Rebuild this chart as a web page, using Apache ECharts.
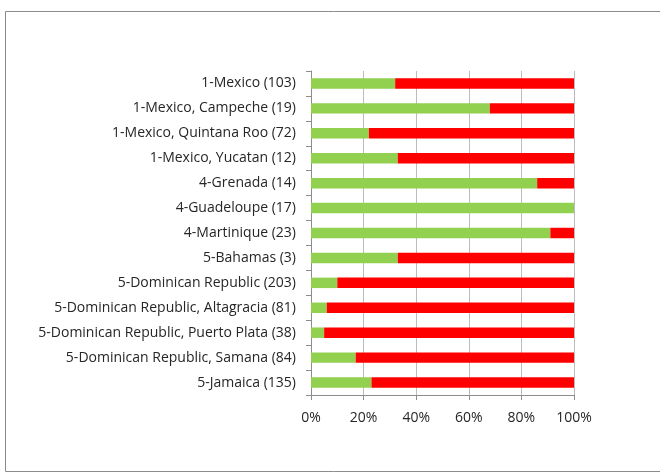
<!DOCTYPE html>
<html>
<head>
<meta charset="utf-8">
<script src="https://cdn.jsdelivr.net/npm/echarts@6/dist/echarts.min.js"></script>
<style>
  html, body { margin: 0; padding: 0; background: #fff; }
  #chart { width: 660px; height: 473px; }
</style>
</head>
<body>
<div id="chart"></div>
<script>
// Sites, listed top to bottom
const categories = [
  '1-Mexico (103)',
  '1-Mexico, Campeche (19)',
  '1-Mexico, Quintana Roo (72)',
  '1-Mexico, Yucatan (12)',
  '4-Grenada (14)',
  '4-Guadeloupe (17)',
  '4-Martinique (23)',
  '5-Bahamas (3)',
  '5-Dominican Republic (203)',
  '5-Dominican Republic, Altagracia (81)',
  '5-Dominican Republic, Puerto Plata (38)',
  '5-Dominican Republic, Samana (84)',
  '5-Jamaica (135)'
];
// Share of each site, percent
const greenShare = [32, 68, 22, 33, 86, 100, 91, 33, 10, 6, 5, 17, 23];
const redShare   = [68, 32, 78, 67, 14, 0, 9, 67, 90, 94, 95, 83, 77];
const xTicks = [0, 20, 40, 60, 80, 100];

const chart = echarts.init(document.getElementById('chart'));
const font = '"Open Sans", "Liberation Sans", sans-serif';

chart.setOption({
  animation: false,
  backgroundColor: '#fff',
  graphic: [{
    type: 'rect',
    shape: { x: 5.5, y: 11.5, width: 700, height: 460 },
    style: { fill: 'none', stroke: '#8c8c8c', lineWidth: 1 },
    z: -10
  }],
  grid: { left: 311, right: 86, top: 71, bottom: 78 },
  xAxis: {
    type: 'value',
    min: 0, max: 100, interval: 20,
    axisLine: { show: true, lineStyle: { color: '#8c8c8c' } },
    axisTick: { show: true, length: 5, lineStyle: { color: '#8c8c8c' } },
    splitLine: { show: true, lineStyle: { color: '#bdbdbd', width: 1 } },
    axisLabel: {
      color: '#262626', fontFamily: font, fontSize: 14, margin: 16,
      formatter: v => xTicks.includes(v) ? v + '%' : ''
    }
  },
  yAxis: {
    type: 'category',
    data: categories,
    inverse: true,
    axisLine: { show: true, lineStyle: { color: '#8c8c8c' } },
    axisTick: { show: true, length: 5, lineStyle: { color: '#8c8c8c' } },
    axisLabel: { color: '#262626', fontFamily: font, fontSize: 14, margin: 15 }
  },
  series: [
    {
      type: 'bar', stack: 'total', data: greenShare, barWidth: '42%',
      itemStyle: { color: '#92D050' }
    },
    {
      type: 'bar', stack: 'total', data: redShare, barWidth: '42%',
      itemStyle: { color: '#FF0000' }
    }
  ]
});
</script>
</body>
</html>
